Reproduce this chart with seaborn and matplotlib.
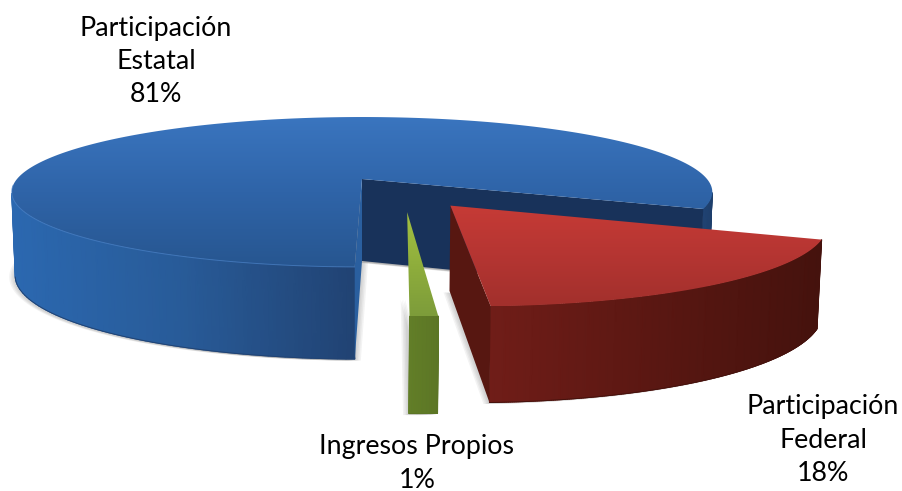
import numpy as np
import matplotlib
matplotlib.use('Agg')
import matplotlib.pyplot as plt
from matplotlib.patches import Polygon
import seaborn as sns

# Data
categories = ['Participación\nEstatal', 'Participación\nFederal', 'Ingresos Propios']
shares = [81, 18, 1]

sns.set_theme(style='white')
plt.rcParams['font.family'] = ['Lato', 'DejaVu Sans']

# Look of each slice: pull out from the centre, colours, label place
explode = [(0.0, 0.0), (0.42, -55.0), (0.44, -74.0)]
top_colors = [['#3a75bf', '#2f64a8', '#275690'], ['#c63b36', '#b53532', '#a2302c'], ['#a4c242', '#8fae3c', '#7d9c3a']]
wall_colors = [['#2b68b0', '#285b98', '#214373'], ['#701d18', '#5a1712', '#45120d'], ['#627e28', '#5f7a26', '#5c7625']]
cut_colors = ['#2a5f9f', '#571711', '#5f7a26']
label_xy = [(156, 61.5), (823, 440), (417, 463.5)]

# Perspective of the disc, in pixels of the picture
cx, R = 362, 345
a, b, c = -41.7, 179, 0.1733
depth, k, squeeze = 82, 0.11, 0.99


def project(X, Y):
    d = 1 + c * Y
    return cx + R * X / d, (a * Y + b) / d


def drop(x, y, Y):
    return cx + (np.asarray(x) - cx) * squeeze, np.asarray(y) + depth / (1 + k * np.asarray(Y))


def top_fill(ax, xs, ys, colors, z=1):
    # vertical gradient image clipped to the polygon
    cmap = sns.blend_palette(colors, as_cmap=True)
    ramp = np.linspace(0, 1, 256).reshape(-1, 1)
    patch = Polygon(np.column_stack([xs, ys]), closed=True, fc='none', ec='none', zorder=z)
    ax.add_patch(patch)
    im = ax.imshow(ramp, cmap=cmap, aspect='auto', zorder=z, interpolation='bilinear',
                   extent=(min(xs), max(xs), max(ys), min(ys)))
    im.set_clip_path(patch)


def wall_fill(ax, x, y, bx, by, colors, z=1):
    # side wall as a two row mesh, shaded from left to right
    cmap = sns.blend_palette(colors, as_cmap=True)
    shade = (x - x.min()) / (x.max() - x.min())
    ax.pcolormesh(np.vstack([x, bx]), np.vstack([y, by]), np.vstack([shade, shade]),
                  cmap=cmap, vmin=0, vmax=1, shading='gouraud', zorder=z)
    ax.plot(bx, by, color=colors[-1], lw=0.7, zorder=z)


def make_slice(start, sweep, ex):
    dx = ex[0] * np.cos(np.radians(ex[1]))
    dy = ex[0] * np.sin(np.radians(ex[1]))
    th = np.radians(np.linspace(start, start - sweep, 240))
    X, Y = dx + np.cos(th), dy + np.sin(th)
    x, y = project(X, Y)
    bx, by = drop(x, y, Y)
    ax0, ay0 = project(dx, dy)
    bx0, by0 = drop(ax0, ay0, dy)
    return dict(th=th, x=x, y=y, bx=bx, by=by, ax=ax0, ay=ay0, bx0=bx0, by0=by0)


fig, ax = plt.subplots(figsize=(9.03, 4.91), dpi=100)
fig.subplots_adjust(left=0, right=1, top=1, bottom=0)

slices = []
angle = -91.0
for share, ex in zip(shares, explode):
    sweep = share * 3.6
    slices.append(make_slice(angle, sweep, ex))
    angle -= sweep

# soft shadows under the slices
for i, s in enumerate(slices):
    offsets = [-6, -4.5, -3, -1.5]
    if i == 0:
        offsets = offsets + [6, 4.5, 3, 1.5]
    for off in offsets:
        pts = np.column_stack([np.r_[s['bx0'], s['bx']] + off, np.r_[s['by0'], s['by']] + 1.5])
        ax.add_patch(Polygon(pts, closed=True, fc='#555555', ec='none', alpha=0.07, zorder=0.5))

order = [0, 2, 1]
z = 1
for i in order:
    s = slices[i]
    # outer wall, only the runs in front of the left and right extremes
    front = np.sin(s['th']) < -c
    edges = np.flatnonzero(np.diff(np.r_[0, front.astype(int), 0]))
    for lo, hi in zip(edges[::2], edges[1::2]):
        colors = wall_colors[i]
        if i == 0 and s['x'][lo] > cx + 200:
            colors = ['#214373', '#1e3f6c']
        wall_fill(ax, s['x'][lo:hi], s['y'][lo:hi], s['bx'][lo:hi], s['by'][lo:hi], colors, z=z)
        z += 1
    # cut face next to the first angle
    cut = np.column_stack([[s['ax'], s['x'][0], s['bx'][0], s['bx0']],
                           [s['ay'], s['y'][0], s['by'][0], s['by0']]])
    if i == 0:
        # inner wall seen through the gap
        inner = np.column_stack([[s['ax'], s['x'][-1], s['bx'][-1], s['bx0']],
                                 [s['ay'], s['y'][-1], s['by'][-1], s['by0']]])
        ax.add_patch(Polygon(inner, closed=True, fc='#18325a', ec='none', zorder=z))
        z += 1
        ax.add_patch(Polygon(cut, closed=True, fc=cut_colors[i], ec='none', zorder=z))
    elif i == 1:
        # red shows its cut face on the last angle
        cut = np.column_stack([[s['ax'], s['x'][-1], s['bx'][-1], s['bx0']],
                               [s['ay'], s['y'][-1], s['by'][-1], s['by0']]])
        ax.add_patch(Polygon(cut, closed=True, fc=cut_colors[i], ec='none', zorder=z))
    z += 1
    # top face
    xs = np.r_[s['ax'], s['x']]
    ys = np.r_[s['ay'], s['y']]
    top_fill(ax, xs, ys, top_colors[i], z=z)
    z += 1
    if i == 0:
        rim = s['th'] > np.radians(-176)
        ax.plot(s['x'][rim], s['y'][rim], color='#4a82c8', lw=0.7, alpha=0.7, zorder=z)
        z += 1

for name, share, (lx, ly) in zip(categories, shares, label_xy):
    ax.text(lx, ly, f'{name}\n{share}%', ha='center', va='center', fontsize=19.3,
            color='black', linespacing=1.41, zorder=z + 1)

ax.set_xlim(0, 903)
ax.set_ylim(491, 0)
ax.axis('off')
fig.savefig('out.png', dpi=100, facecolor='white')
